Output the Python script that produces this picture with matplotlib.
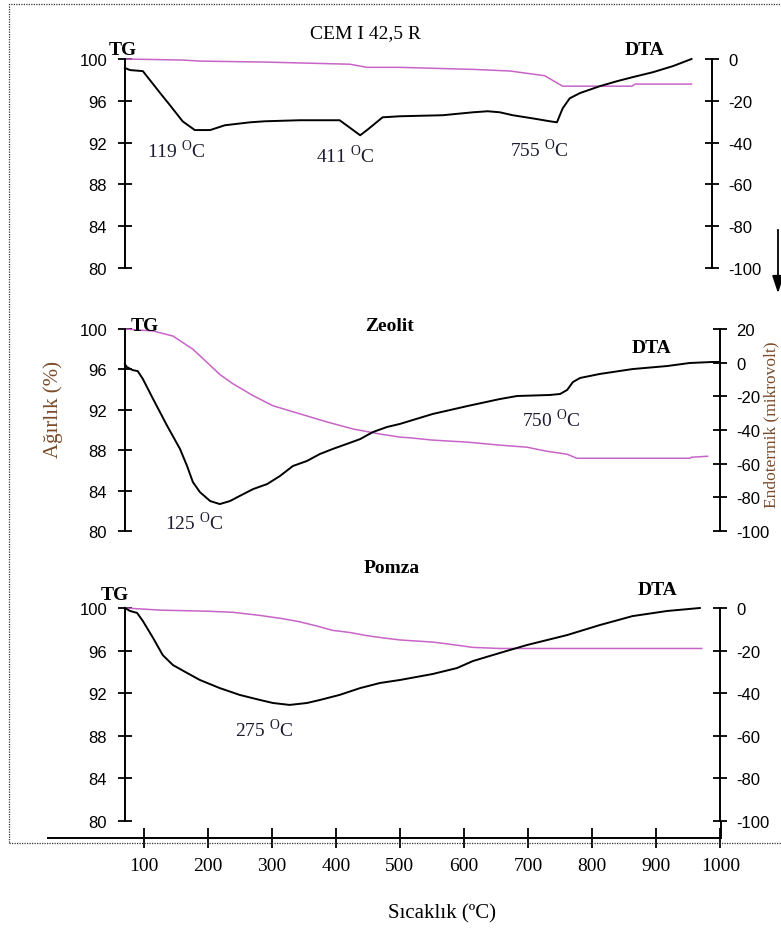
import numpy as np
import matplotlib
matplotlib.use("Agg")
import matplotlib.pyplot as plt
from matplotlib.patches import Rectangle, FancyArrowPatch

# figure size in pixels (dpi=100)
W, H = 781, 929

MAGENTA = "#C864C8"
BROWN = "#7A4B2A"

# ---- CEM I 42,5 R ---------------------------------------------------------
cem_tg_t = [71, 161, 188, 294, 422, 449, 500, 617, 672, 726, 754, 862, 867, 955]
cem_tg = [100.0, 99.9, 99.8, 99.7, 99.5, 99.2, 99.2, 99.0, 98.85, 98.4, 97.4,
          97.4, 97.6, 97.6]
cem_dta_t = [71, 79, 99, 126, 141, 161, 180, 204, 227, 266, 289, 344, 406, 419,
             438, 450, 473, 500, 567, 614, 637, 656, 676, 707, 734, 745, 754,
             765, 781, 812, 839, 863, 895, 926, 955]
cem_dta = [-4.3, -5.3, -5.8, -16.3, -22.0, -29.8, -34.0, -34.0, -31.7, -30.3,
           -29.8, -29.3, -29.3, -32.2, -36.5, -33.7, -27.9, -27.4, -26.9, -25.5,
           -25.0, -25.5, -26.9, -28.4, -29.8, -30.3, -23.6, -18.8, -16.3, -13.0,
           -10.6, -8.7, -6.3, -3.4, 0.0]

# ---- Zeolit ---------------------------------------------------------------
zeo_tg_t = [71, 115, 146, 177, 199, 219, 239, 271, 302, 344, 386, 427, 469, 500,
            520, 551, 605, 656, 698, 729, 761, 776, 812, 952, 955, 980]
zeo_tg = [100.0, 99.8, 99.3, 98.0, 96.7, 95.5, 94.6, 93.4, 92.4, 91.6, 90.8,
          90.1, 89.6, 89.3, 89.2, 89.0, 88.8, 88.5, 88.3, 87.9, 87.6, 87.2,
          87.2, 87.2, 87.3, 87.4]
zeo_dta_t = [71, 74, 83, 91, 99, 115, 137, 157, 168, 177, 188, 204, 219, 235,
             250, 271, 293, 313, 333, 355, 375, 395, 417, 438, 458, 480, 500,
             551, 605, 656, 683, 734, 750, 761, 770, 781, 812, 863, 917, 952,
             987, 999]
zeo_dta = [-0.8, -2.6, -4.4, -5.0, -9.7, -21.6, -37.6, -51.3, -61.4, -70.9,
           -76.9, -82.2, -84.0, -82.2, -79.2, -75.1, -72.1, -67.3, -61.4, -58.4,
           -54.3, -51.3, -48.3, -45.4, -41.2, -38.2, -36.4, -30.5, -25.8, -21.6,
           -19.8, -19.2, -18.6, -16.2, -11.5, -9.1, -6.7, -3.8, -2.0, -0.2,
           0.4, 0.4]

# ---- Pomza ----------------------------------------------------------------
pom_tg_t = [71, 126, 199, 239, 282, 317, 344, 371, 395, 422, 449, 473, 500, 551,
            578, 614, 656, 683, 971]
pom_tg = [100.0, 99.8, 99.7, 99.6, 99.3, 99.0, 98.7, 98.3, 97.9, 97.7, 97.4,
          97.2, 97.0, 96.8, 96.6, 96.3, 96.2, 96.2, 96.2]
pom_dta_t = [71, 79, 90, 99, 115, 130, 146, 168, 188, 219, 250, 282, 302, 328,
             355, 375, 406, 438, 469, 500, 551, 589, 614, 656, 698, 761, 812,
             863, 917, 968]
pom_dta = [0.0, -1.4, -2.3, -6.1, -14.1, -22.1, -26.8, -30.5, -33.8, -37.6,
           -40.8, -43.2, -44.6, -45.5, -44.6, -43.2, -40.8, -37.6, -35.2, -33.8,
           -31.0, -28.2, -24.9, -21.1, -17.4, -12.7, -8.0, -3.8, -1.4, 0.0]

tg_ticks = [80, 84, 88, 92, 96, 100]
x_ticks = [100, 200, 300, 400, 500, 600, 700, 800, 900, 1000]
XLIM = (-49, 1001)


def fx(x):
    return x / W


def fy(y):
    return 1 - y / H


def make_panel(fig, top, bottom, tg_t, tg, dta_t, dta, dta_lim, dta_ticks, right_x):
    ax = fig.add_axes([fx(48), fy(bottom), fx(721) - fx(48), (bottom - top) / H])
    ax.patch.set_visible(False)
    ax.set_xlim(XLIM)
    ax.set_ylim(80, 100)
    ax.set_yticks(tg_ticks)
    ax.xaxis.set_visible(False)
    for s in ("top", "right", "bottom"):
        ax.spines[s].set_visible(False)
    ax.spines["left"].set_position(("data", 71))
    ax.spines["left"].set_linewidth(1.4)
    ax.tick_params(axis="y", direction="inout", length=9.5, width=1.3, pad=8,
                   labelsize=12)
    for lbl in ax.get_yticklabels():
        lbl.set_fontfamily("Liberation Sans")
    ax.plot(tg_t, tg, color=MAGENTA, lw=1.1, clip_on=False)

    ax2 = ax.twinx()
    ax2.set_xlim(XLIM)
    ax2.set_ylim(*dta_lim)
    ax2.set_yticks(dta_ticks)
    ax2.xaxis.set_visible(False)
    for s in ("top", "left", "bottom"):
        ax2.spines[s].set_visible(False)
    ax2.spines["right"].set_position(("data", right_x))
    ax2.spines["right"].set_linewidth(1.4)
    ax2.tick_params(axis="y", direction="inout", length=9.5, width=1.3, pad=7,
                    labelsize=12)
    for lbl in ax2.get_yticklabels():
        lbl.set_fontfamily("Liberation Sans")
    ax2.plot(dta_t, dta, color="black", lw=1.4, clip_on=False)
    return ax, ax2


def label(fig, x, y, s, size=14, weight="normal", **kw):
    fig.text(fx(x), fy(y), s, ha="center", va="baseline", fontsize=size,
             fontweight=weight, **kw)


def peak(fig, x, y, t):
    label(fig, x, y, f"{t} $^{{\\mathrm{{O}}}}$C", size=14, color="#1c1c30")


plt.rcParams.update({
    "font.family": "Liberation Serif",
    "mathtext.fontset": "custom",
    "mathtext.rm": "Liberation Serif",
    "axes.unicode_minus": False,
})

fig = plt.figure(figsize=(W / 100, H / 100), dpi=100)

make_panel(fig, 60, 269, cem_tg_t, cem_tg, cem_dta_t, cem_dta,
           (-100, 0), [0, -20, -40, -60, -80, -100], 987)
make_panel(fig, 330, 532, zeo_tg_t, zeo_tg, zeo_dta_t, zeo_dta,
           (-100, 20), [20, 0, -20, -40, -60, -80, -100], 999)
make_panel(fig, 609, 822, pom_tg_t, pom_tg, pom_dta_t, pom_dta,
           (-100, 0), [0, -20, -40, -60, -80, -100], 1000)

# shared temperature axis at the bottom
axx = fig.add_axes([fx(48), fy(839), fx(721) - fx(48), 16 / H])
axx.patch.set_visible(False)
axx.set_xlim(XLIM)
axx.set_yticks([])
axx.set_xticks(x_ticks)
for s in ("top", "left"):
    axx.spines[s].set_visible(False)
axx.spines["bottom"].set_linewidth(1.4)
axx.spines["right"].set_linewidth(1.4)
axx.tick_params(axis="x", direction="inout", length=14, width=1.3, pad=7,
                labelsize=14)

# titles and curve labels
label(fig, 365, 38, "CEM I 42,5 R", size=14)
label(fig, 123, 55, "TG", weight="bold")
label(fig, 645, 55, "DTA", weight="bold")
label(fig, 145, 331, "TG", weight="bold")
label(fig, 390, 331, "Zeolit", weight="bold")
label(fig, 652, 353, "DTA", weight="bold")
label(fig, 392, 573, "Pomza", weight="bold")
label(fig, 115, 600, "TG", weight="bold")
label(fig, 658, 595, "DTA", weight="bold")

peak(fig, 176, 158, 119)
peak(fig, 345, 163, 411)
peak(fig, 539, 157, 755)
peak(fig, 551, 427, 750)
peak(fig, 194, 530, 125)
peak(fig, 264, 737, 275)

# axis titles
label(fig, 442, 918, "Sıcaklık (ºC)", size=15)
fig.text(fx(53), fy(410), "Ağırlık (%)", rotation=90, ha="center", va="center",
         fontsize=15, color=BROWN)
fig.text(fx(771), fy(425), "Endotermik (mikrovolt)", rotation=90, ha="center",
         va="center", fontsize=12.5, color=BROWN)

# dotted frame and endothermic arrow
fig.add_artist(Rectangle((fx(9), fy(844)), fx(800) - fx(9), (844 - 5) / H,
                         transform=fig.transFigure, fill=False, lw=0.9,
                         ls=(0, (1, 1)), color="#333333"))
fig.add_artist(FancyArrowPatch((fx(778), fy(228)), (fx(778), fy(297)),
                               transform=fig.transFigure,
                               arrowstyle="-|>,head_length=0.75,head_width=0.25",
                               mutation_scale=14, lw=1.3, color="black"))

fig.savefig("out.png", dpi=100)
